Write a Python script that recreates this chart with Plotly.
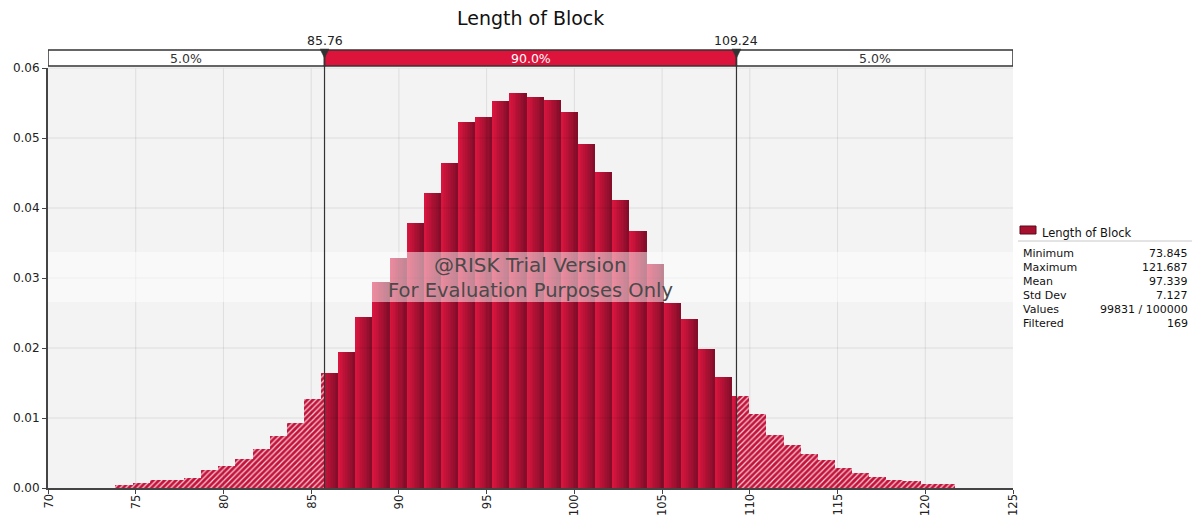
import numpy as np
import plotly.graph_objects as go

# ---------------- data ----------------
title_text = "Length of Block"
series_name = "Length of Block"
x_min = 73.845
x_max = 121.687
density = [0.0004, 0.0007, 0.0011, 0.0011, 0.0015, 0.0026, 0.0031, 0.0041, 0.0056, 0.0074,
           0.0093, 0.0127, 0.0164, 0.0195, 0.0244, 0.0295, 0.0329, 0.0378, 0.0422, 0.0465,
           0.0523, 0.0530, 0.0553, 0.0565, 0.0559, 0.0555, 0.0537, 0.0491, 0.0452, 0.0412,
           0.0367, 0.0320, 0.0265, 0.0241, 0.0198, 0.0158, 0.0131, 0.0106, 0.0076, 0.0061,
           0.0049, 0.0040, 0.0029, 0.0021, 0.0016, 0.0012, 0.0010, 0.0006, 0.0006]
lo_pct_value = 85.76
hi_pct_value = 109.24
band_labels = ["5.0%", "90.0%", "5.0%"]
x_tick_vals = [70, 75, 80, 85, 90, 95, 100, 105, 110, 115, 120, 125]
y_tick_vals = [0.00, 0.01, 0.02, 0.03, 0.04, 0.05, 0.06]
stat_labels = ["Minimum", "Maximum", "Mean", "Std Dev", "Values", "Filtered"]
stat_values = ["73.845", "121.687", "97.339", "7.127", "99831 / 100000", "169"]
watermark_lines = ["@RISK Trial Version", "For Evaluation Purposes Only"]

# ---------------- layout constants ----------------
W, H = 1198, 515
L, T, R, B = 48, 68, 185, 27
PW, PH = W - L - R, H - T - B
FONT = "DejaVu Sans"


def px(xp):
    return (xp - L) / PW


def py(yp):
    return (T + PH - yp) / PH


n = len(density)
bw = (x_max - x_min) / n
edges = x_min + bw * np.arange(n + 1)

fig = go.Figure()

# hatched tails
hx, hy, hw = [], [], []
for i in range(n):
    a, b = edges[i], edges[i + 1]
    if a < lo_pct_value:
        e = min(b, lo_pct_value)
        hx.append((a + e) / 2); hy.append(density[i]); hw.append(e - a)
    if b > hi_pct_value:
        s = max(a, hi_pct_value)
        hx.append((s + b) / 2); hy.append(density[i]); hw.append(b - s)

fig.add_trace(go.Bar(
    x=hx, y=hy, width=hw,
    marker=dict(color="#c4123a",
                pattern=dict(shape="/", fgcolor="rgba(255,255,255,0.8)", bgcolor="#c4123a",
                             size=4, solidity=0.3, fillmode="replace"),
                line=dict(width=0)),
    hoverinfo="skip", showlegend=False))

# solid middle with left-to-right gradient per bar
K = 10
c_left = np.array([216, 21, 62])
c_right = np.array([132, 14, 42])
for k in range(K):
    t = k / (K - 1)
    c = (c_left * (1 - t) + c_right * t).astype(int)
    col = f"rgb({c[0]},{c[1]},{c[2]})"
    sx, sy, sw = [], [], []
    for i in range(n):
        a = edges[i]
        sa = a + k * bw / K
        sb = sa + bw / K * (1.6 if k < K - 1 else 1.0)
        sa_c = max(sa, lo_pct_value)
        sb_c = min(sb, hi_pct_value, edges[i + 1])
        if sb_c > sa_c:
            sx.append((sa_c + sb_c) / 2); sy.append(density[i]); sw.append(sb_c - sa_c)
    fig.add_trace(go.Bar(x=sx, y=sy, width=sw,
                         marker=dict(color=col, line=dict(width=0)),
                         hoverinfo="skip", showlegend=False))

shapes = []
# gridlines above bars
for xv in x_tick_vals[1:-1]:
    shapes.append(dict(type="line", xref="x", yref="paper", x0=xv, x1=xv, y0=0, y1=1,
                       line=dict(color="rgba(0,0,0,0.09)", width=1), layer="above"))
for yv in y_tick_vals[1:-1]:
    shapes.append(dict(type="line", xref="paper", yref="y", x0=0, x1=1, y0=yv, y1=yv,
                       line=dict(color="rgba(0,0,0,0.09)", width=1), layer="above"))
shapes.append(dict(type="line", xref="paper", yref="paper", x0=0, x1=1, y0=1, y1=1,
                   line=dict(color="#dddddd", width=1), layer="above"))

# watermark band
shapes.append(dict(type="rect", xref="paper", yref="paper", x0=0, x1=1, y0=py(302), y1=py(252),
                   fillcolor="rgba(255,255,255,0.5)", line=dict(width=0), layer="above"))

# top percentile strip
strip_y0, strip_y1 = py(66), py(50)
xr0, xr1 = x_tick_vals[0], x_tick_vals[-1]
shapes.append(dict(type="rect", xref="x", yref="paper", x0=xr0, x1=lo_pct_value, y0=strip_y0, y1=strip_y1,
                   fillcolor="white", line=dict(color="#333333", width=1.5), layer="above"))
shapes.append(dict(type="rect", xref="x", yref="paper", x0=lo_pct_value, x1=hi_pct_value, y0=strip_y0, y1=strip_y1,
                   fillcolor="#dc143c", line=dict(color="#333333", width=1.5), layer="above"))
shapes.append(dict(type="rect", xref="x", yref="paper", x0=hi_pct_value, x1=xr1, y0=strip_y0, y1=strip_y1,
                   fillcolor="white", line=dict(color="#333333", width=1.5), layer="above"))

# percentile lines + triangles
tri_half = 4.5 / (PW / (xr1 - xr0))
for v in (lo_pct_value, hi_pct_value):
    shapes.append(dict(type="line", xref="x", yref="paper", x0=v, x1=v, y0=0, y1=strip_y1,
                       line=dict(color="#333333", width=1.2), layer="above"))
    shapes.append(dict(type="path", xref="x", yref="paper",
                       path=f"M {v - tri_half},{py(49)} L {v + tri_half},{py(49)} L {v},{py(58)} Z",
                       fillcolor="#333333", line=dict(color="#333333", width=0.5), layer="above"))

# legend box
shapes.append(dict(type="rect", xref="paper", yref="paper", x0=px(1020), x1=px(1036), y0=py(234), y1=py(226),
                   fillcolor="#a8102f", line=dict(color="#5a0a1a", width=1)))
shapes.append(dict(type="line", xref="paper", yref="paper", x0=px(1018), x1=px(1192), y0=py(241), y1=py(241),
                   line=dict(color="#c8c8c8", width=1)))

annotations = []
annotations.append(dict(text=title_text, xref="paper", yref="paper", x=0.5, y=py(18), showarrow=False,
                        xanchor="center", yanchor="middle", font=dict(family=FONT, size=19, color="#111111")))
for v in (lo_pct_value, hi_pct_value):
    annotations.append(dict(text=f"{v:.2f}", xref="x", yref="paper", x=v, y=py(40), showarrow=False,
                            xanchor="center", yanchor="middle", font=dict(family=FONT, size=12.5, color="#222222")))
centers = [(xr0 + lo_pct_value) / 2, (lo_pct_value + hi_pct_value) / 2, (hi_pct_value + xr1) / 2]
colors = ["#333333", "white", "#333333"]
for c, lab, col in zip(centers, band_labels, colors):
    annotations.append(dict(text=lab, xref="x", yref="paper", x=c, y=py(58.5), showarrow=False,
                            xanchor="center", yanchor="middle", font=dict(family=FONT, size=12.5, color=col)))
annotations.append(dict(text=watermark_lines[0], xref="paper", yref="paper", x=px(530), y=py(265),
                        showarrow=False, xanchor="center", yanchor="middle",
                        font=dict(family=FONT, size=20, color="#4a4a4a")))
annotations.append(dict(text=watermark_lines[1], xref="paper", yref="paper", x=px(530), y=py(290),
                        showarrow=False, xanchor="center", yanchor="middle",
                        font=dict(family=FONT, size=19.5, color="#4a4a4a")))
annotations.append(dict(text=series_name, xref="paper", yref="paper", x=px(1040), y=py(233),
                        showarrow=False, xanchor="left", yanchor="middle",
                        font=dict(family=FONT, size=11.5, color="#111111")))
for j, (lab, val) in enumerate(zip(stat_labels, stat_values)):
    yy = py(253 + 14 * j)
    annotations.append(dict(text=lab, xref="paper", yref="paper", x=px(1021), y=yy, showarrow=False,
                            xanchor="left", yanchor="middle", font=dict(family=FONT, size=11, color="#111111")))
    annotations.append(dict(text=val, xref="paper", yref="paper", x=px(1190), y=yy, showarrow=False,
                            xanchor="right", yanchor="middle", font=dict(family=FONT, size=11, color="#111111")))
# x tick labels (rotated) as annotations so they fit in the bottom margin
for v in x_tick_vals:
    annotations.append(dict(text=str(v), xref="x", yref="paper", x=v, y=py(492), showarrow=False,
                            textangle=-90, xanchor="center", yanchor="top",
                            font=dict(family=FONT, size=11.5, color="#222222")))

fig.update_layout(
    width=W, height=H,
    margin=dict(l=L, r=R, t=T, b=B, autoexpand=False),
    paper_bgcolor="white", plot_bgcolor="#f3f3f3",
    barmode="overlay", bargap=0,
    showlegend=False,
    shapes=shapes, annotations=annotations,
    xaxis=dict(range=[xr0, xr1], tickvals=x_tick_vals, showticklabels=False,
               showgrid=False, zeroline=False, showline=True, linecolor="#444444",
               linewidth=2, ticks="outside", ticklen=4, tickcolor="#444444", automargin=False),
    yaxis=dict(range=[y_tick_vals[0], y_tick_vals[-1]], tickvals=y_tick_vals,
               ticktext=[f"{v:.2f}" for v in y_tick_vals], showgrid=False, zeroline=False,
               showline=True, linecolor="#444444", linewidth=2, ticks="outside", ticklen=4,
               tickcolor="#444444", automargin=False,
               tickfont=dict(family=FONT, size=12, color="#222222")),
)

fig.write_html("out.html", config={"displayModeBar": False},
               post_script="document.body.style.margin='0';document.body.style.padding='0';"
                           "document.documentElement.style.overflow='hidden';")
